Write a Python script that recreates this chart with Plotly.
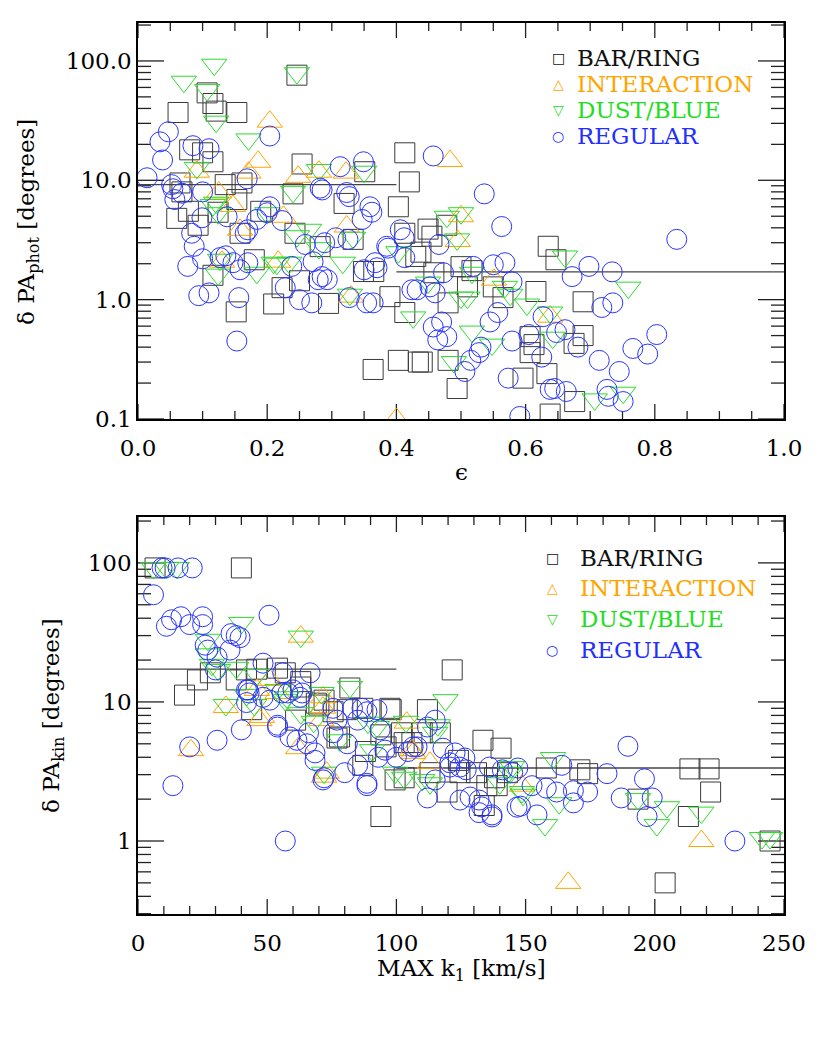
import numpy as np
import plotly.graph_objects as go

# ---------------- top panel: delta PA_phot vs ellipticity ----------------
# (epsilon, delta PA_phot [deg])
bar_phot = [
    (0.246, 76), (0.107, 54), (0.116, 44), (0.121, 38), (0.153, 37), (0.062, 37),
    (0.08, 18), (0.10, 17), (0.116, 14.3), (0.065, 9.5), (0.068, 8.0), (0.06, 4.8),
    (0.078, 5.5), (0.093, 4.2), (0.135, 9.2), (0.124, 5.4), (0.153, 6.9), (0.161, 9.5),
    (0.158, 3.6), (0.19, 5.5), (0.18, 2.16), (0.116, 1.6), (0.152, 0.79), (0.21, 0.92),
    (0.223, 1.26), (0.25, 1.44), (0.243, 3.6), (0.254, 13.7), (0.24, 7.7), (0.295, 0.93),
    (0.282, 2.78), (0.333, 3.2), (0.319, 6.4), (0.349, 1.72), (0.365, 1.72), (0.351, 11.8),
    (0.364, 0.26), (0.403, 0.31), (0.39, 1.06), (0.413, 0.78), (0.403, 6.0), (0.413, 3.6),
    (0.413, 17), (0.42, 9.7), (0.434, 0.30), (0.43, 2.3), (0.449, 3.9), (0.455, 3.4),
    (0.438, 2.5), (0.478, 4.2), (0.50, 1.89), (0.458, 1.68), (0.48, 0.94), (0.44, 0.30),
    (0.48, 0.31), (0.494, 0.18), (0.51, 1.28), (0.55, 1.28), (0.565, 1.04), (0.616, 1.17),
    (0.635, 2.8), (0.647, 2.16), (0.689, 0.96), (0.607, 0.49), (0.613, 0.42), (0.607, 0.36),
    (0.675, 0.43), (0.689, 0.50), (0.596, 0.22), (0.633, 0.24), (0.676, 0.14), (0.638, 0.11),
    (0.517, 1.75),
]
inter_phot = [
    (0.204, 31), (0.186, 14.3), (0.171, 11.6), (0.091, 11.8), (0.125, 7.9), (0.147, 6.1),
    (0.158, 3.85), (0.225, 4.95), (0.248, 10.7), (0.28, 11.8), (0.322, 11.6), (0.323, 4.1),
    (0.13, 2.08), (0.217, 2.08), (0.33, 1.06), (0.40, 0.1), (0.483, 14.5), (0.50, 5.0),
    (0.495, 3.1), (0.551, 1.47), (0.638, 0.72),
]
dust_phot = [
    (0.118, 93), (0.071, 67), (0.107, 57), (0.246, 79), (0.121, 31), (0.171, 22),
    (0.091, 12.7), (0.28, 12.2), (0.35, 11.8), (0.24, 8.0), (0.116, 6.2), (0.124, 5.3),
    (0.2, 5.3), (0.184, 1.68), (0.124, 1.62), (0.127, 2.16), (0.21, 2.04), (0.234, 2.04),
    (0.265, 3.85), (0.28, 2.7), (0.317, 2.04), (0.333, 3.3), (0.328, 1.1), (0.403, 2.5),
    (0.426, 0.71), (0.121, 6.5), (0.246, 3.4), (0.215, 2.0), (0.478, 4.95), (0.50, 5.3),
    (0.494, 3.2), (0.449, 1.39), (0.517, 1.68), (0.50, 1.04), (0.51, 1.04), (0.576, 1.1),
    (0.602, 0.91), (0.638, 0.78), (0.661, 2.3), (0.517, 0.54), (0.548, 0.42), (0.642, 0.48),
    (0.489, 0.30), (0.759, 1.26), (0.707, 0.146), (0.751, 0.166), (0.568, 1.28),
]
reg_phot = [
    (0.014, 10.5), (0.034, 21), (0.047, 25.5), (0.038, 14.8), (0.052, 9.2), (0.054, 8.5),
    (0.057, 6.9), (0.068, 7.8), (0.085, 19.5), (0.11, 18.4), (0.10, 8.0), (0.099, 4.85),
    (0.083, 3.6), (0.087, 2.8), (0.077, 1.9), (0.10, 2.2), (0.094, 1.08), (0.11, 1.14),
    (0.138, 4.95), (0.127, 2.25), (0.136, 2.33), (0.158, 1.78), (0.156, 1.04), (0.153, 0.45),
    (0.169, 10.3), (0.166, 3.6), (0.17, 3.85), (0.184, 4.7), (0.2, 5.35), (0.204, 6.0),
    (0.223, 4.6), (0.204, 23.5), (0.17, 2.04), (0.147, 2.04), (0.228, 1.26), (0.238, 1.9),
    (0.25, 1.0), (0.259, 2.9), (0.269, 0.94), (0.271, 2.08), (0.282, 8.6), (0.279, 1.47),
    (0.285, 1.56), (0.289, 3.0), (0.306, 3.3), (0.313, 13.0), (0.323, 7.9), (0.325, 3.2),
    (0.327, 1.04), (0.349, 14.3), (0.347, 4.7), (0.359, 6.0), (0.367, 2.04), (0.354, 0.94),
    (0.387, 2.7), (0.406, 3.85), (0.413, 2.25), (0.424, 1.21), (0.457, 16), (0.536, 7.7),
    (0.563, 4.1), (0.834, 3.2), (0.412, 3.3), (0.466, 2.9), (0.473, 1.68), (0.432, 1.21),
    (0.452, 1.28), (0.46, 1.14), (0.519, 1.9), (0.55, 1.96), (0.568, 2.04), (0.579, 1.41),
    (0.545, 0.65), (0.557, 0.78), (0.457, 0.59), (0.47, 0.65), (0.464, 0.46), (0.478, 0.49),
    (0.515, 0.31), (0.506, 0.25), (0.528, 0.36), (0.531, 0.40), (0.579, 0.45), (0.573, 0.22),
    (0.605, 0.51), (0.625, 0.33), (0.627, 0.72), (0.648, 0.53), (0.661, 0.56), (0.681, 0.40),
    (0.672, 1.56), (0.698, 1.9), (0.734, 1.71), (0.718, 0.86), (0.735, 0.94), (0.714, 0.31),
    (0.745, 0.25), (0.766, 0.39), (0.789, 0.35), (0.803, 0.51), (0.638, 0.177), (0.645, 0.18),
    (0.663, 0.17), (0.726, 0.177), (0.728, 0.155), (0.751, 0.14), (0.591, 0.105), (0.293, 1.47),
    (0.364, 0.94), (0.35, 1.78), (0.37, 1.85), (0.385, 2.8), (0.327, 7.3), (0.362, 5.4),
    (0.285, 8.3),
]
phot_bins = [0.0, 0.4, 1.0]
phot_medians = [9.2, 1.71]

# ---------------- bottom panel: delta PA_kin vs max k1 ----------------
# (max k1 [km/s], delta PA_kin [deg])
bar_kin = [
    (6.6, 92), (40, 92), (18, 11.2), (23, 14.4), (28, 16.2), (38, 14.4), (42, 17),
    (46, 17.2), (54, 17.5), (57, 16.2), (63, 14), (44, 8.8), (61, 7.4), (69, 9.8),
    (63, 12.8), (70, 9.5), (81, 8.8), (87, 9), (87, 3.5), (94, 1.5), (96, 4.75),
    (103, 2.85), (103, 5.1), (77, 5.5), (94, 5.8), (98, 8.8), (121.6, 17), (82, 12.6),
    (97.5, 9), (112, 8.8), (133.5, 5.3), (140.5, 4.65), (99.5, 2.75), (119.6, 2.25),
    (134, 1.8), (72, 10.3), (75.5, 8.5), (78, 5.6), (102, 6), (110, 6), (117, 6),
    (124, 3.8), (113, 3.1), (131, 3.1), (138, 2.85), (143, 3.1), (88, 4.4), (106, 5.1),
    (124.6, 3.1), (135, 2.5), (139, 2.5), (158, 3.35), (171, 3.25), (174, 3.05),
    (213.6, 3.3), (221, 3.3), (221.6, 2.25), (213, 1.5), (193.5, 2.0), (204, 0.5),
    (244.6, 1.0),
]
inter_kin = [
    (20.5, 4.5), (34, 9.2), (63, 29.5), (47, 7.4), (51, 14.4), (46, 12.2), (62, 4.65),
    (71.6, 9.1), (72, 2.9), (48, 7.8), (54, 11.6), (71, 7.4), (73, 3.1), (104, 7.1),
    (113, 3.65), (71.6, 10.8), (106, 4.5), (218, 1.0), (166.5, 0.5), (148.6, 2.5),
    (106.5, 4.3),
]
dust_kin = [
    (6, 92), (11, 92), (15, 92), (40, 37), (63, 29.5), (27, 28), (27, 22), (28.6, 18.5),
    (34, 9.5), (38, 17.6), (42, 11.2), (45, 9.5), (57.6, 10.8), (63, 8.3), (68, 7.2),
    (71, 11.6), (72, 3.1), (31, 17), (46, 15.6), (54, 12.2), (57, 10.3), (78, 5.3),
    (82, 12.8), (92.5, 6.6), (103, 2.85), (119, 10.3), (103.7, 7.2), (116, 6.8), (89, 7.1),
    (90.6, 4.5), (99.5, 3.1), (110, 2.75), (113, 2.6), (144.7, 3.4), (140, 2.6),
    (160.6, 3.95), (144, 3.1), (157.5, 1.3), (193.5, 2.0), (204.7, 1.75), (200.8, 1.3),
    (218, 1.6), (241.5, 1.05), (244.6, 1.05), (115, 6), (148.6, 2.25), (163, 1.87),
    (149, 2.15),
]
reg_kin = [
    (6, 59), (9.3, 92), (10.5, 92), (15.5, 92), (21, 92), (11, 35), (13, 39), (16.6, 41),
    (20, 36), (25, 41), (25, 36), (50.7, 42), (36, 31), (39.5, 29), (26, 25.6), (27, 23.6),
    (35.6, 23.6), (30.6, 21), (30, 17), (48.4, 19), (56, 16.2), (66.6, 16.2), (42, 12.2),
    (43, 11.6), (48.4, 10.8), (55.7, 11.6), (60, 12.2), (62.7, 10.8), (20, 4.75),
    (30.6, 5.3), (40, 6.3), (54, 6.6), (58.8, 5.6), (61.5, 5.3), (68.5, 3.8), (71.6, 2.75),
    (13.5, 2.5), (57, 1.0), (65.4, 5.0), (38, 30), (42.6, 12.2), (42, 9.9), (51, 10.3),
    (54, 6.8), (58, 11.6), (63.5, 11.6), (66, 6), (68.5, 4.3), (72, 2.85), (75.5, 6),
    (81, 5.0), (80, 3.1), (88.6, 2.5), (85, 3.5), (83, 9), (88.6, 8.5), (85, 7.4), (93, 4.0),
    (93.7, 6.3), (75.5, 9), (77, 7.4), (88.6, 2.6), (112, 2.04), (124.6, 1.97), (132, 1.6),
    (137, 1.49), (132, 1.97), (146.7, 1.75), (95.6, 4.5), (100, 4.0), (104.5, 4.4),
    (108, 4.75), (120.7, 3.65), (124.6, 3.4), (127, 3.25), (136, 3.4), (141, 3.25),
    (145, 3.1), (115, 7.4), (92.5, 8.8), (86.7, 9), (189.6, 4.8), (164, 3.5), (181.5, 3.05),
    (196, 2.8), (158, 2.4), (162, 2.25), (168.5, 2.3), (174, 2.25), (168.5, 1.88),
    (154.4, 1.54), (148, 1.78), (187, 2.04), (199, 2.04), (197, 1.5), (231, 1.0),
    (128.5, 2.07), (133, 1.76), (137, 1.54), (112, 6.6), (106.5, 4.75), (118, 4.65),
    (122.7, 4.3), (126.5, 3.95), (147, 3.35), (152.5, 2.5), (115, 2.75), (120.7, 3.4),
]
kin_bins = [0, 100, 250]
kin_medians = [17.2, 3.35]

classes = ['BAR/RING', 'INTERACTION', 'DUST/BLUE', 'REGULAR']
colors = ['#3a3a3a', '#FFA500', '#2EDB2E', '#2A35FF']
symbols = ['square-open', 'triangle-up-open', 'triangle-down-open', 'circle-open']
sizes = [20, 22, 22, 20]
legend_glyphs = ['\u25A1', '\u25B3', '\u25BD', '\u25CB']

# tick values of both panels
phot_xmajor = [0.2 * k for k in range(6)]
phot_xminor = [0.05 * k for k in range(21) if k % 4 != 0]
kin_xmajor = [50 * k for k in range(6)]
kin_xminor = [10 * k for k in range(26) if k % 5 != 0]
log_major = [0.1, 1, 10, 100]
log_minor = [m * 10.0 ** e for e in range(-1, 3) for m in range(2, 10)]

FONT = 'DejaVu Serif'
OFF = 8                    # the page body adds an 8px margin
W, H = 830 - OFF, 1060 - OFF


def px(x):
    return (x - OFF) / W


def py(y):
    return 1 - (y - OFF) / H


px_x0, px_x1 = 138, 784
top_y0, top_y1 = 23, 419
bot_y0, bot_y1 = 517, 914

phot_xrange, phot_yrange = [0, 1], [-1, 2.318]
kin_xrange, kin_yrange = [0, 250], [-0.525, 2.33]


def tick_marks(xr, yr, xmaj, xmin, ymaj, ymin, wpx, hpx):
    # IDL-style tick marks pointing into the frame on all four sides;
    # tick lengths are given in pixels and turned into data units
    dx = (xr[1] - xr[0]) / wpx
    dy = (yr[1] - yr[0]) / hpx
    xs, ys = [], []
    for vals, ln in ((xmaj, 15), (xmin, 8)):
        for v in vals:
            for a, b in ((yr[0], yr[0] + ln * dy), (yr[1], yr[1] - ln * dy)):
                xs += [v, v, None]
                ys += [10 ** a, 10 ** b, None]
    for vals, ln in ((ymaj, 26), (ymin, 13)):
        for v in vals:
            if not (yr[0] <= np.log10(v) <= yr[1]):
                continue
            for a, b in ((xr[0], xr[0] + ln * dx), (xr[1], xr[1] - ln * dx)):
                xs += [a, b, None]
                ys += [v, v, None]
    return xs, ys


fig = go.Figure()

panels = [
    ([bar_phot, inter_phot, dust_phot, reg_phot], phot_bins, phot_medians, 'x', 'y',
     tick_marks(phot_xrange, phot_yrange, phot_xmajor, phot_xminor, log_major, log_minor,
                px_x1 - px_x0, top_y1 - top_y0)),
    ([bar_kin, inter_kin, dust_kin, reg_kin], kin_bins, kin_medians, 'x2', 'y2',
     tick_marks(kin_xrange, kin_yrange, kin_xmajor, kin_xminor, log_major, log_minor,
                px_x1 - px_x0, bot_y1 - bot_y0)),
]
for series, bins, medians, xa, ya, ticks in panels:
    fig.add_trace(go.Scatter(x=ticks[0], y=ticks[1], mode='lines',
                             line=dict(color='#222222', width=1.3),
                             xaxis=xa, yaxis=ya, showlegend=False, hoverinfo='skip'))
    for k in range(len(bins) - 1):
        fig.add_trace(go.Scatter(x=[bins[k], bins[k + 1]], y=[medians[k], medians[k]],
                                 mode='lines', line=dict(color='#444444', width=1.3),
                                 xaxis=xa, yaxis=ya, showlegend=False, hoverinfo='skip'))
    for pts, name, c, s, sz in zip(series, classes, colors, symbols, sizes):
        xs, ys = zip(*pts)
        fig.add_trace(go.Scatter(x=xs, y=ys, mode='markers', name=name,
                                 marker=dict(symbol=s, size=sz, color=c, line=dict(width=1, color=c)),
                                 xaxis=xa, yaxis=ya, showlegend=False, cliponaxis=True))

tickfont = dict(family=FONT, size=23, color='black')
frame = dict(showline=True, linecolor='black', linewidth=1.5, mirror=True,
             ticks='', showgrid=False, zeroline=False, tickfont=tickfont)

fig.update_layout(
    width=W, height=H, plot_bgcolor='white', paper_bgcolor='white',
    margin=dict(l=0, r=0, t=0, b=0, autoexpand=False), showlegend=False,
    xaxis=dict(domain=[px(px_x0), px(px_x1)], anchor='y', range=phot_xrange,
               tickvals=phot_xmajor, tickformat='.1f', ticklabelstandoff=8, **frame),
    yaxis=dict(domain=[py(top_y1), py(top_y0)], anchor='x', type='log', range=phot_yrange,
               tickvals=log_major, ticktext=['0.1', '1.0', '10.0', '100.0'], **frame),
    xaxis2=dict(domain=[px(px_x0), px(px_x1)], anchor='y2', range=kin_xrange,
                tickvals=kin_xmajor, ticklabelstandoff=8, **frame),
    yaxis2=dict(domain=[py(bot_y1), py(bot_y0)], anchor='x2', type='log', range=kin_yrange,
                tickvals=[1, 10, 100], ticktext=['1', '10', '100'], **frame),
)

title_font = dict(family=FONT, size=23, color='black')
ann = [
    dict(text='\u03F5', x=px(461), y=py(472)),
    dict(text='MAX k<sub>1</sub> [km/s]', x=px(461), y=py(970)),
    dict(text='\u03B4 PA<sub>phot</sub> [degrees]', x=px(28), y=py(222), textangle=-90),
    dict(text='\u03B4 PA<sub>kin</sub> [degrees]', x=px(53), y=py(716), textangle=-90),
]
for a in ann:
    a.update(xref='paper', yref='paper', xanchor='center', yanchor='middle',
             showarrow=False, font=title_font)

legend_rows = [
    (558, 575, [58, 84, 110, 136]),
    (552, 578, [558, 588, 619, 650]),
]
legend_colors = ['#111111', '#FFA500', '#22DD22', '#1F2FFF']
for sym_x, txt_x, rows in legend_rows:
    for glyph, name, c, yy in zip(legend_glyphs, classes, legend_colors, rows):
        ann.append(dict(text=glyph, x=px(sym_x), y=py(yy), xref='paper', yref='paper',
                        xanchor='center', yanchor='middle', showarrow=False,
                        font=dict(family='DejaVu Sans', size=14, color=c)))
        ann.append(dict(text=name, x=px(txt_x), y=py(yy), xref='paper', yref='paper',
                        xanchor='left', yanchor='middle', showarrow=False,
                        font=dict(family=FONT, size=23, color=c)))
fig.update_layout(annotations=ann)

fig.write_html("out.html")
